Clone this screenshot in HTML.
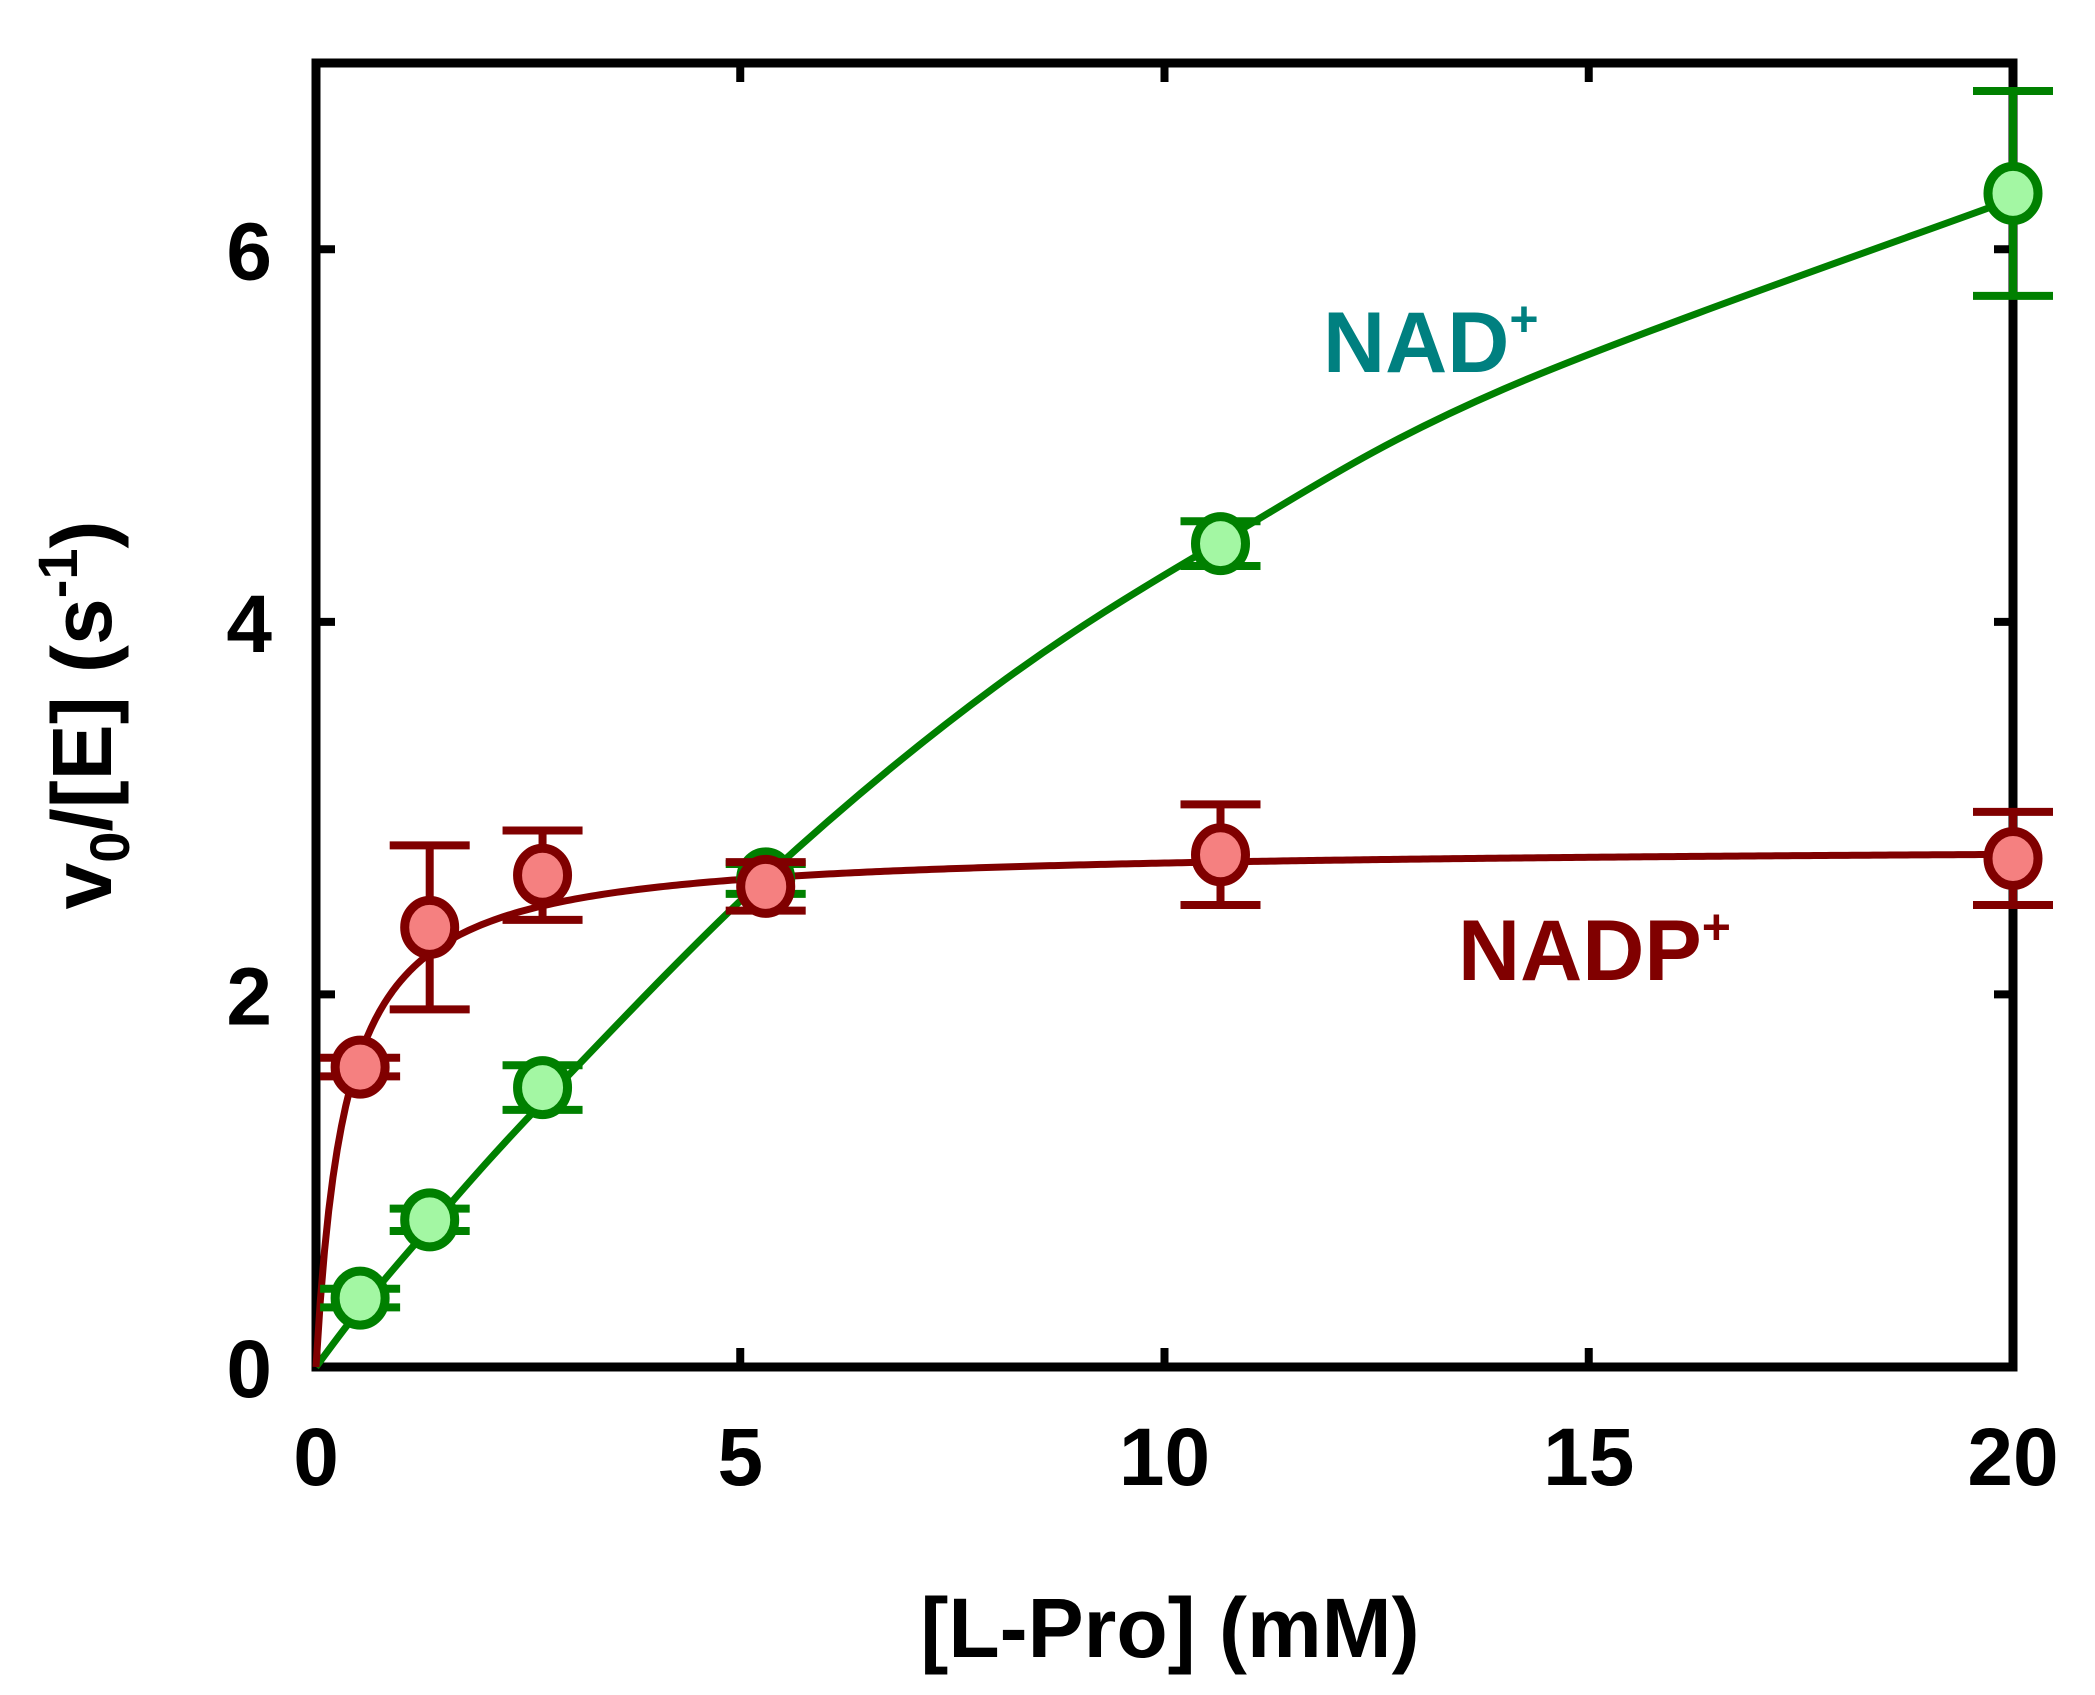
<!DOCTYPE html>
<html><head><meta charset="utf-8"><style>
html,body{margin:0;padding:0;background:#fff;}
svg{display:block;}
text{font-family:"Liberation Sans",Arial,sans-serif;font-weight:bold;}
</style></head><body>
<svg id="chart" width="2095" height="1695" viewBox="0 0 2095 1695">
<g id="plot"></g>
</svg>
<script>
const xTicks = [0, 5, 10, 15, 20];
const yTicks = [0, 2, 4, 6];
const nadX = [0.52, 1.34, 2.67, 5.3, 10.66, 20];
const nadY = [0.37, 0.79, 1.50, 2.62, 4.42, 6.30];
const nadErr = [0.05, 0.06, 0.12, 0.08, 0.12, 0.55];
const nadpX = [0.52, 1.34, 2.67, 5.3, 10.66, 20];
const nadpY = [1.61, 2.36, 2.64, 2.58, 2.75, 2.73];
const nadpErr = [0.05, 0.44, 0.24, 0.13, 0.27, 0.25];
const nadFitX = [0, 0.5, 1.34, 2.67, 5.3, 8, 10.66, 14, 20];
const nadFitY = [0, 0.3, 0.75, 1.42, 2.63, 3.65, 4.43, 5.25, 6.27];
const nadpVmax = 2.8;
const nadpKm = 0.35;

const L=316, R=2013, T=63, B=1367;
const X0=0, X1=20, Y0=0, Y1=7;
const sx = v => L + (v-X0)/(X1-X0)*(R-L);
const sy = v => B - (v-Y0)/(Y1-Y0)*(B-T);
const NS="http://www.w3.org/2000/svg";
const svg=document.getElementById('chart');
function mk(tag, attrs, parent){const e=document.createElementNS(NS,tag);for(const k in attrs)e.setAttribute(k,attrs[k]);(parent||svg).appendChild(e);return e;}

xTicks.forEach(t=>{
  const x=sx(t);
  if(t>X0&&t<X1){
    const a=mk('line',{x1:x,y1:B,x2:x,y2:B-19,stroke:'#000','stroke-width':8});
    
    
    const b=mk('line',{x1:x,y1:T,x2:x,y2:T+19,stroke:'#000','stroke-width':8});
    
    
  }
  const lbl=mk('text',{x:x,y:1485,'font-size':82,'text-anchor':'middle'});
  lbl.textContent=t;
  
  
});
yTicks.forEach(t=>{
  const y=sy(t);
  if(t>Y0){
    const a=mk('line',{x1:L,y1:y,x2:L+19,y2:y,stroke:'#000','stroke-width':8});
    
    
    const b=mk('line',{x1:R,y1:y,x2:R-19,y2:y,stroke:'#000','stroke-width':8});
    
    
  }
  const lbl=mk('text',{x:272,y:y+30,'font-size':82,'text-anchor':'end'});
  lbl.textContent=t;
  
  
});

const fr=mk('rect',{x:L,y:T,width:R-L,height:B-T,fill:'none',stroke:'#000','stroke-width':9});



function smoothPath(px,py){
  let d='M'+px[0]+','+py[0];
  for(let i=0;i<px.length-1;i++){
    const p0x=px[Math.max(i-1,0)],p0y=py[Math.max(i-1,0)];
    const p3x=px[Math.min(i+2,px.length-1)],p3y=py[Math.min(i+2,px.length-1)];
    const c1x=px[i]+(px[i+1]-p0x)/6,c1y=py[i]+(py[i+1]-p0y)/6;
    const c2x=px[i+1]-(p3x-px[i])/6,c2y=py[i+1]-(p3y-py[i])/6;
    d+=' C'+c1x+','+c1y+' '+c2x+','+c2y+' '+px[i+1]+','+py[i+1];
  }
  return d;
}
const nadFit=mk('path',{d:smoothPath(nadFitX.map(sx),nadFitY.map(sy)),fill:'none',stroke:'#008000','stroke-width':7});


let dp='';
for(let i=0;i<=400;i++){const v=X1*i/400;const y=nadpVmax*v/(nadpKm+v);dp+=(i?'L':'M')+sx(v)+','+sy(y);}
const nadpFit=mk('path',{d:dp,fill:'none',stroke:'#800000','stroke-width':7});



function series(xs,ys,es,stroke,fill,name){
  const g=mk('g',{});
  
  
  xs.forEach((v,i)=>{
    const x=sx(v),y=sy(ys[i]),yt=sy(ys[i]+es[i]),yb=sy(ys[i]-es[i]);
    const eb=mk('path',{d:`M${x},${yt}L${x},${yb}M${x-40},${yt}L${x+40},${yt}M${x-40},${yb}L${x+40},${yb}`,stroke:stroke,'stroke-width':8,fill:'none'},g);
    
    
    const c=mk('ellipse',{cx:x,cy:y,rx:25,ry:27,fill:fill,stroke:stroke,'stroke-width':9},g);
    
    
  });
}
series(nadX,nadY,nadErr,'#008000','#a3f7a3','nad');
series(nadpX,nadpY,nadpErr,'#800000','#f58080','nadp');

const l1=mk('text',{x:1323,y:372,'font-size':86,fill:'#008080'});
l1.innerHTML='NAD<tspan dy="-36" font-size="50">+</tspan>';


const l2=mk('text',{x:1458,y:980,'font-size':86,fill:'#800000'});
l2.innerHTML='NADP<tspan dy="-36" font-size="50">+</tspan>';


const xt=mk('text',{x:1170,y:1657,'font-size':84,'text-anchor':'middle'});
xt.textContent='[L-Pro] (mM)';


const yt=mk('text',{x:0,y:0,'font-size':84,'text-anchor':'middle',transform:'translate(111,715) rotate(-90)'});
yt.innerHTML='v<tspan dy="18" font-size="56">0</tspan><tspan dy="-18">/[E] (s</tspan><tspan dy="-34" font-size="56">-1</tspan><tspan dy="34">)</tspan>';


</script>
</body></html>
